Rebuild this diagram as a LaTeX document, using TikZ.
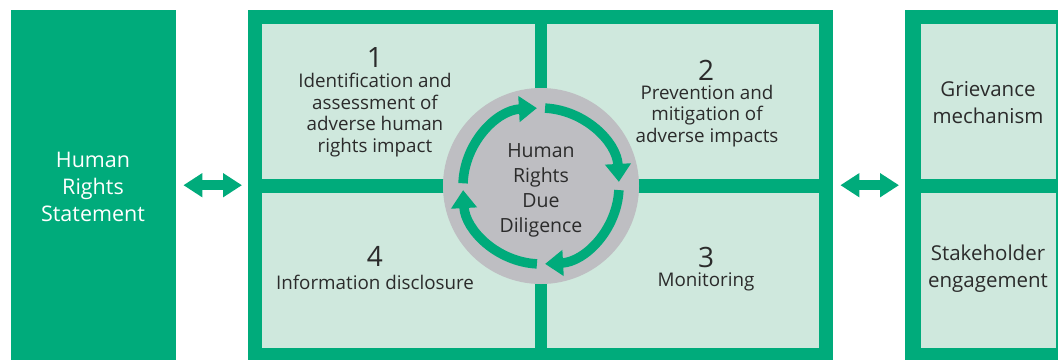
\documentclass[tikz,border=0pt]{standalone}
\usepackage{fontspec}
\setmainfont{Open Sans}
\usetikzlibrary{arrows.meta}
\definecolor{hgreen}{HTML}{00AB7B}
\definecolor{hlight}{HTML}{CFE8DD}
\definecolor{hgray}{HTML}{BEBEC2}
\definecolor{htext}{HTML}{2B2B2B}
\begin{document}
\begin{tikzpicture}[x=1pt,y=-1pt,
  greenbox/.style={fill=hgreen,draw=none,inner sep=0pt,anchor=north west},
  cellbox/.style={fill=hlight,draw=none,inner sep=0pt,anchor=north west},
  numtext/.style={text=htext,inner sep=0pt,font=\fontsize{28}{30}\selectfont},
  celltext/.style={text=htext,inner sep=0pt,align=center,font=\fontsize{18.8}{21.5}\selectfont},
  sidetext/.style={inner sep=0pt,align=center,font=\fontsize{20.5}{27}\selectfont},
  dblarrow/.style={draw=hgreen,line width=10pt,{Triangle[width=23pt,length=19pt]}-{Triangle[width=23pt,length=19pt]},shorten <=7pt,shorten >=6pt},
  ringarrow/.style={draw=hgreen,line width=9.5pt,-{Triangle[width=25pt,length=18pt]}}
]
\useasboundingbox (0,0) rectangle (1058,360);
% left box
\node[greenbox,minimum width=165pt,minimum height=350pt] (lbox) at (11,10) {};
\node[sidetext,text=white,font=\fontsize{21.5}{27}\selectfont] (ltext) at (93,187) {Human\\Rights\\Statement};
% middle frame
\node[greenbox,minimum width=585pt,minimum height=350pt] (mid) at (248,10) {};
\node[cellbox,minimum width=273pt,minimum height=155pt] (c1) at (262,24) {};
\node[cellbox,minimum width=272pt,minimum height=155pt] (c2) at (547,24) {};
\node[cellbox,minimum width=273pt,minimum height=155pt] (c4) at (262,193) {};
\node[cellbox,minimum width=272pt,minimum height=155pt] (c3) at (547,193) {};
% right frame
\node[greenbox,minimum width=153pt,minimum height=350pt] (rgt) at (905,10) {};
\node[cellbox,minimum width=135pt,minimum height=155pt] (r1) at (921,24) {};
\node[cellbox,minimum width=135pt,minimum height=155pt] (r2) at (921,193) {};
\node[sidetext,text=htext] (r1text) at (988,103) {Grievance\\mechanism};
\node[sidetext,text=htext] (r2text) at (988,269) {Stakeholder\\engagement};
% double arrows
\draw[dblarrow] (lbox.east) -- (mid.west);
\draw[dblarrow] (mid.east) -- (rgt.west);
% cell texts
\node[numtext] (n1) at (375,58) {1};
\node[celltext] (t1) at (375,115) {Identification and\\assessment of\\adverse human\\rights impact};
\node[numtext] (n2) at (706,70) {2};
\node[celltext] (t2) at (707,116) {Prevention and\\mitigation of\\adverse impacts};
\node[numtext] (n4) at (375,256) {4};
\node[celltext] (t4) at (375,282) {Information disclosure};
\node[numtext] (n3) at (706,257) {3};
\node[celltext] (t3) at (706,282) {Monitoring};
% circle
\node[circle,fill=hgray,draw=none,minimum size=196pt,inner sep=0pt] (hrdd) at (541,186) {};
\node[celltext,font=\fontsize{19.5}{25}\selectfont] (htext) at ([yshift=-4pt]hrdd.center) {Human\\Rights\\Due\\Diligence};
\draw[ringarrow] ([shift={(-178:78)}]hrdd.center) arc[start angle=-178,end angle=-93,radius=78];
\draw[ringarrow] ([shift={(-87:78)}]hrdd.center) arc[start angle=-87,end angle=-3,radius=78];
\draw[ringarrow] ([shift={(3:78)}]hrdd.center) arc[start angle=3,end angle=87,radius=78];
\draw[ringarrow] ([shift={(93:78)}]hrdd.center) arc[start angle=93,end angle=177,radius=78];
\end{tikzpicture}
\end{document}
